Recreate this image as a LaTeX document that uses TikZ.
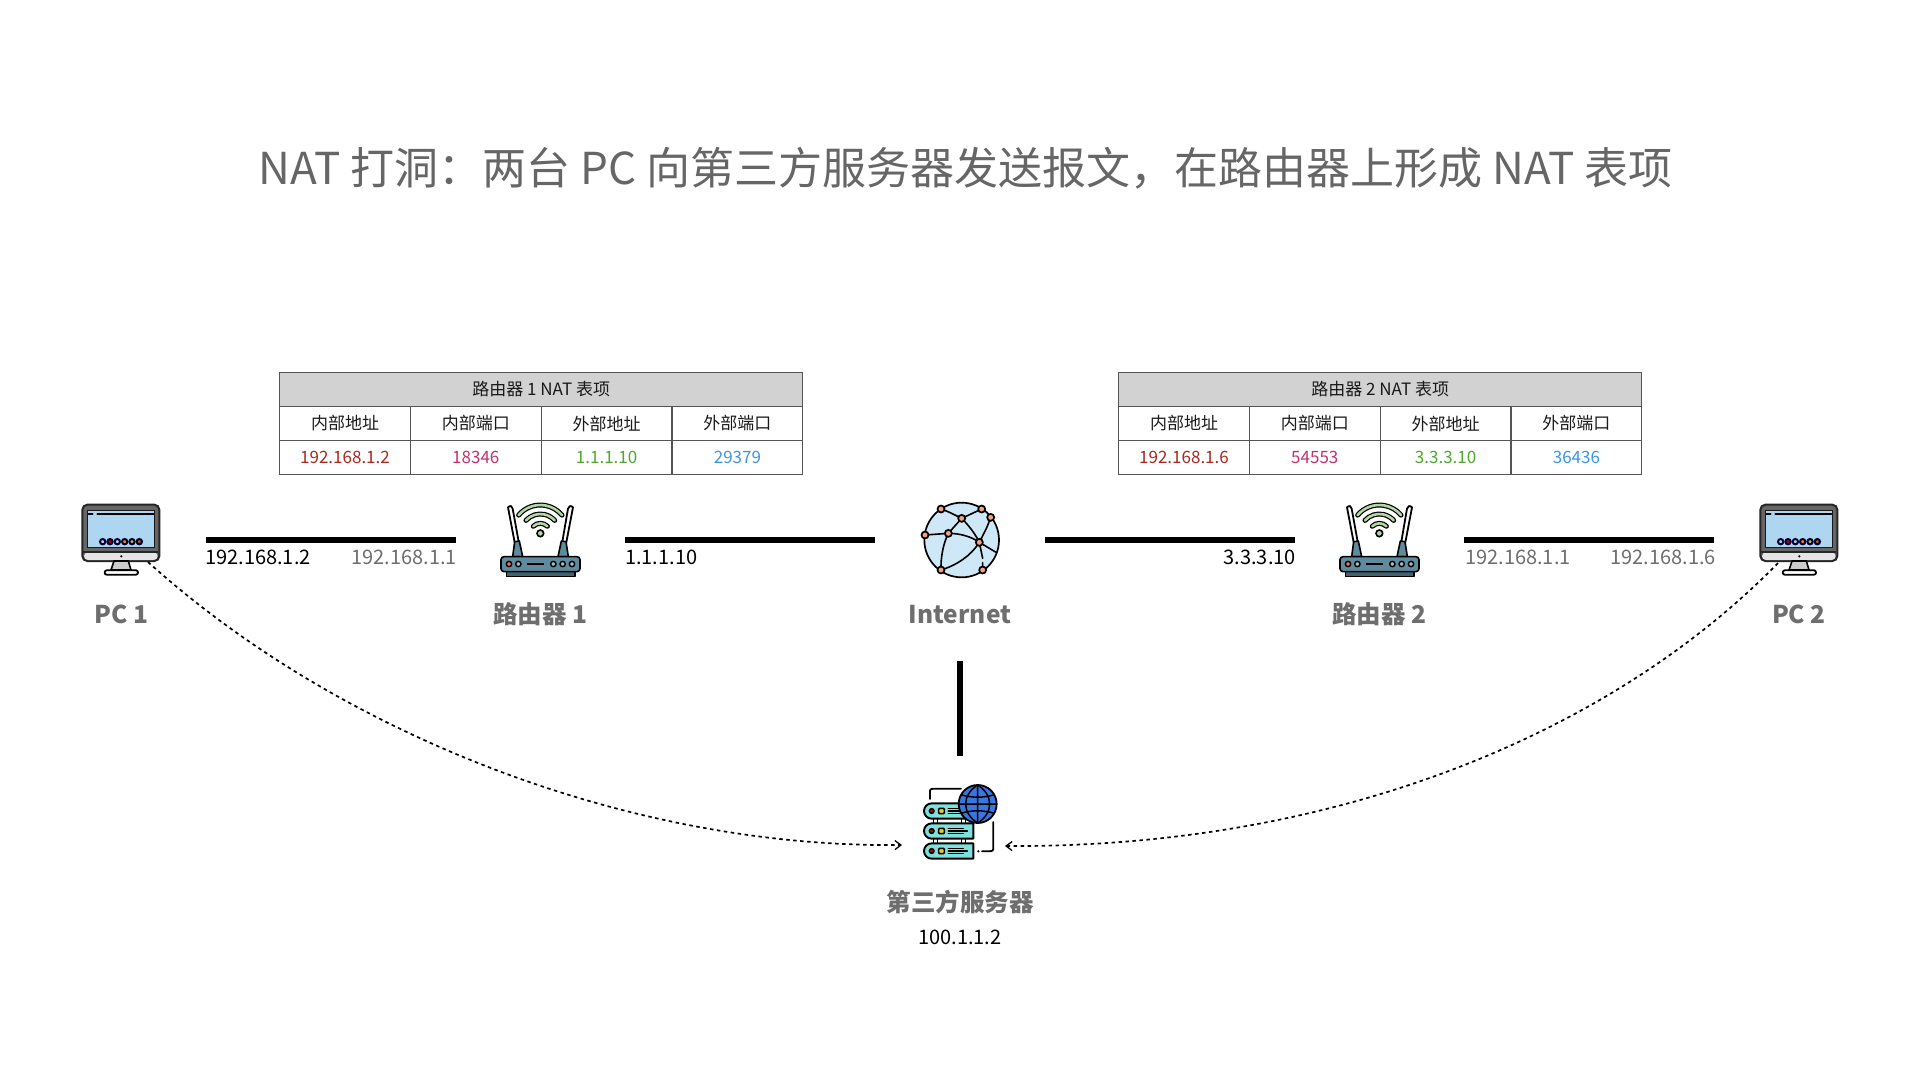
\documentclass[tikz,border=0pt]{standalone}
\usepackage{fontspec}
\setmainfont{Noto Sans CJK SC}
\usetikzlibrary{arrows.meta,positioning,calc}
\definecolor{ink}{HTML}{1A1A1A}
\definecolor{titlegray}{HTML}{666666}
\definecolor{lblgray}{HTML}{6E6E6E}
\definecolor{hdr}{HTML}{D2D2D2}
\definecolor{rule}{HTML}{555555}
\definecolor{cred}{HTML}{A8291F}
\definecolor{cpink}{HTML}{C2326E}
\definecolor{cgreen}{HTML}{4FA82D}
\definecolor{cblue}{HTML}{3D95E3}
\definecolor{screen}{HTML}{AED6F1}
\definecolor{rbody}{HTML}{5E8C9E}
\definecolor{wifi}{HTML}{B5D6A0}
\definecolor{globe}{HTML}{CFE8F7}
\definecolor{knot}{HTML}{F2A27E}
\definecolor{srv}{HTML}{7FE0DC}
\definecolor{sglobe}{HTML}{3A76E0}
\tikzset{
  x=1pt,y=-1pt,
  cell/.style={draw=rule,line width=1.2pt,minimum width=130.8pt,minimum height=33.8pt,inner sep=0pt,font=\fontsize{17}{17}\selectfont,text=ink,anchor=north west},
  headcell/.style={cell,fill=hdr,minimum width=523.2pt},
  wire/.style={line width=6pt,draw=black},
  dots/.style={draw=black,line width=1.7pt,dash pattern=on 3.5pt off 3.5pt,-{Straight Barb[length=6pt,width=9pt,line width=1.3pt]}},
  caption/.style={font=\fontsize{24.5}{25}\selectfont\bfseries,text=lblgray},
  addr/.style={font=\fontsize{20}{20}\selectfont,text=black,inner sep=0pt},
  addrg/.style={addr,text=lblgray},
  icon/.style={minimum size=80pt,inner sep=0pt},
  ln/.style={draw=black,line width=1.6pt,line cap=round,line join=round}
}
\newcommand{\pcicon}[1]{%
\begin{scope}[shift={(#1,480)},scale=1/3]
 \draw[draw=black!85,fill=black!60,rounded corners=5pt,line width=2pt] (67,74) rectangle (298,243);
 \fill[black!10,rounded corners=4pt] (72,217) rectangle (293,240);
 \draw[black!85,line width=1.6pt] (70,216) -- (295,216);
 \draw[draw=black!90,fill=screen,line width=1.4pt] (83,92) rectangle (283,203);
 \draw[ln,line width=2pt] (86,101) -- (98,101) (112,101) -- (280,101);
 \foreach \xx/\cc in {128/screen,150/red!70!black,172/screen,194/orange,216/yellow!70!black,238/orange!70!black}
   \draw[fill=\cc,draw=black!80!blue,line width=2pt] (\xx,185) circle (8);
 \fill[black] (184,229) circle (3.6);
 \draw[ln,fill=black!20] (162,243) -- (205,243) -- (213,270) -- (153,270) -- cycle;
 \draw[ln,fill=white,rounded corners=2pt,line width=1.8pt] (134,271) rectangle (234,284);
\end{scope}}
\newcommand{\routericon}[1]{%
\begin{scope}[shift={(#1,490)},scale=1/3]
 \draw[ln,fill=white,line width=1.8pt] (84,52) .. controls (90,45) and (98,48) .. (98,56) -- (116,155) -- (104,157) -- cycle;
 \draw[ln,fill=white,line width=1.8pt] (279,52) .. controls (273,45) and (265,48) .. (264,56) -- (247,155) -- (259,157) -- cycle;
 \draw[ln,fill=rbody] (104,155) -- (118,153) -- (128,200) -- (98,200) -- cycle;
 \draw[ln,fill=rbody] (258,155) -- (244,153) -- (234,200) -- (265,200) -- cycle;
 \draw[ln,fill=rbody!70!black] (80,245) rectangle (285,260);
 \draw[ln,fill=rbody,rounded corners=3pt] (63,200) rectangle (300,245);
 \draw[fill=red!60!white,draw=black,line width=1.4pt] (87,222) circle (8);
 \foreach \xx in {115,220,248,276}
   \draw[fill=rbody!60!white,draw=black,line width=1.4pt] (\xx,222) circle (8);
 \draw[black,line width=2pt] (142,222) -- (192,222);
 \foreach \rr/\aa in {30/45,58/48,85/50}{
   \draw[black,line width=5pt,line cap=round] ($(181,130)+(-90-\aa:\rr)$) arc (-90-\aa:-90+\aa:\rr);
   \draw[wifi,line width=2.6pt,line cap=round] ($(181,130)+(-90-\aa:\rr)$) arc (-90-\aa:-90+\aa:\rr);
 }
 \draw[fill=wifi,draw=black,line width=1.6pt] (181,130) circle (10);
\end{scope}}
\begin{document}
\begin{tikzpicture}
\useasboundingbox (0,0) rectangle (1920,1080);
\fill[white] (0,0) rectangle (1920,1080);

\node[text=titlegray,font=\fontsize{44}{44}\selectfont,inner sep=0pt] (title) at (965.5,168) {NAT 打洞：两台 PC 向第三方服务器发送报文，在路由器上形成 NAT 表项};

% tables
\node[headcell] (t1h) at (279,372) {路由器 1 NAT 表项};
\node[cell] (t1a) at (279,406) {内部地址};
\node[cell] (t1b) at (409.8,406) {内部端口};
\node[cell] (t1c) at (540.6,406) {外部地址};
\node[cell] (t1d) at (671.4,406) {外部端口};
\node[cell,text=cred] (t1e) at (279,440) {192.168.1.2};
\node[cell,text=cpink] (t1f) at (409.8,440) {18346};
\node[cell,text=cgreen] (t1g) at (540.6,440) {1.1.1.10};
\node[cell,text=cblue] (t1i) at (671.4,440) {29379};

\node[headcell] (t2h) at (1118,372) {路由器 2 NAT 表项};
\node[cell] (t2a) at (1118,406) {内部地址};
\node[cell] (t2b) at (1248.8,406) {内部端口};
\node[cell] (t2c) at (1379.6,406) {外部地址};
\node[cell] (t2d) at (1510.4,406) {外部端口};
\node[cell,text=cred] (t2e) at (1118,440) {192.168.1.6};
\node[cell,text=cpink] (t2f) at (1248.8,440) {54553};
\node[cell,text=cgreen] (t2g) at (1379.6,440) {3.3.3.10};
\node[cell,text=cblue] (t2i) at (1510.4,440) {36436};

% icon placeholders
\node[icon] (pc1) at (121,540) {};
\node[icon] (r1) at (540,540) {};
\node[icon] (net) at (960,540) {};
\node[icon] (r2) at (1379,540) {};
\node[icon] (pc2) at (1799,540) {};
\node[icon] (srvn) at (960,822) {};

\pcicon{60}
\pcicon{1738}
\routericon{480}
\routericon{1319}

% internet globe
\begin{scope}[shift={(900,490)},scale=1/3]
 \draw[fill=globe,draw=black,line width=1.7pt] (185,150) circle (112);
 \draw[ln] (123,57) .. controls (145,65) .. (185,85) .. controls (215,70) .. (245,57);
 \draw[ln] (185,85) .. controls (205,105) and (225,130) .. (238,157);
 \draw[ln] (185,85) -- (145,130) -- (75,135);
 \draw[ln] (145,130) .. controls (130,160) and (122,200) .. (123,240);
 \draw[ln] (145,130) .. controls (180,130) and (215,140) .. (238,157);
 \draw[ln] (272,82) .. controls (262,110) .. (238,157);
 \draw[ln] (238,157) .. controls (210,200) and (170,225) .. (123,240);
 \draw[ln] (238,157) -- (290,188);
 \draw[ln] (238,157) -- (248,205) (248,218) -- (248,240);
 \foreach \xx/\yy in {123/57,245/57,272/82,185/85,75/135,145/130,238/157,123/240,248/240}
   \draw[fill=knot,draw=black,line width=1.7pt] (\xx,\yy) circle (10.5);
\end{scope}

% server
\begin{scope}[shift={(880,770)},scale=1/3]
 \draw[ln,line width=1.8pt] (150,87) -- (150,68) .. controls (150,58) .. (160,56) -- (243,56);
 \draw[ln,line width=1.8pt] (340,156) -- (340,228) .. controls (340,243) .. (325,244) -- (306,244);
 \fill[black] (295,244) circle (3.6);
 \foreach \yy in {145,205}{
   \draw[ln,fill=white] (160,\yy) rectangle (172,\yy+15);
   \draw[ln,fill=white] (245,\yy) rectangle (257,\yy+15);
 }
 \foreach \yy in {100,160,220}{
   \draw[ln,line width=1.9pt,fill=srv] (280,\yy) -- (155,\yy) arc (-90:-270:23) -- (280,\yy+46) -- cycle;
   \draw[fill=red!75!black,draw=black,line width=1.5pt] (155,\yy+23) circle (7);
   \draw[fill=yellow!85!black,draw=black,line width=1.5pt,rounded corners=1pt] (176,\yy+15) rectangle (193,\yy+31);
   \draw[ln] (205,\yy+15) -- (250,\yy+15) (205,\yy+31) -- (250,\yy+31) (205,\yy+23) -- (262,\yy+23);
 }
 \draw[fill=sglobe,draw=black,line width=1.8pt] (293,102) circle (57);
 \draw[black,line width=1.5pt] (293,45) -- (293,159) (236,102) -- (350,102) (243,74) .. controls (275,84) and (311,84) .. (343,74) (243,130) .. controls (275,120) and (311,120) .. (343,130);
 \draw[black,line width=1.5pt] (293,45) .. controls (245,75) and (245,129) .. (293,159) (293,45) .. controls (341,75) and (341,129) .. (293,159);
\end{scope}

% wires
\coordinate (w1a) at (206,539.5); \coordinate (w1b) at (456,539.5);
\coordinate (w2a) at (625,539.5); \coordinate (w2b) at (875,539.5);
\coordinate (w3a) at (1044.5,539.5); \coordinate (w3b) at (1294.5,539.5);
\coordinate (w4a) at (1464,539.5); \coordinate (w4b) at (1714,539.5);
\coordinate (w5a) at (960,661); \coordinate (w5b) at (960,756);
\draw[wire] (w1a) -- (w1b);
\draw[wire] (w2a) -- (w2b);
\draw[wire] (w3a) -- (w3b);
\draw[wire] (w4a) -- (w4b);
\draw[wire] (w5a) -- (w5b);

% labels
\node[addr,anchor=west] (l1) at (205,557.5) {192.168.1.2};
\node[addrg,anchor=east] (l2) at (457,557.5) {192.168.1.1};
\node[addr,anchor=west] (l3) at (625,557.5) {1.1.1.10};
\node[addr,anchor=east] (l4) at (1296,557.5) {3.3.3.10};
\node[addrg,anchor=west] (l5) at (1465,557.5) {192.168.1.1};
\node[addrg,anchor=east] (l6) at (1716,557.5) {192.168.1.6};

\node[caption] (c1) at (121.5,614.5) {PC 1};
\node[caption] (c2) at (540.5,614.5) {路由器 1};
\node[caption] (c3) at (960,614.5) {Internet};
\node[caption] (c4) at (1379.5,614.5) {路由器 2};
\node[caption] (c5) at (1799,614.5) {PC 2};
\node[caption] (c6) at (960,902) {第三方服务器};
\node[addr] (c7) at (960,937) {100.1.1.2};

% dashed curves
\coordinate (d1a) at (148,562); \coordinate (d1b) at (902,845);
\coordinate (d2a) at (1778,563); \coordinate (d2b) at (1005,846);
\draw[dots] (d1a) .. controls (340,735) and (630,848) .. (d1b);
\draw[dots] (d2a) .. controls (1620,725) and (1350,848) .. (d2b);
\end{tikzpicture}
\end{document}
